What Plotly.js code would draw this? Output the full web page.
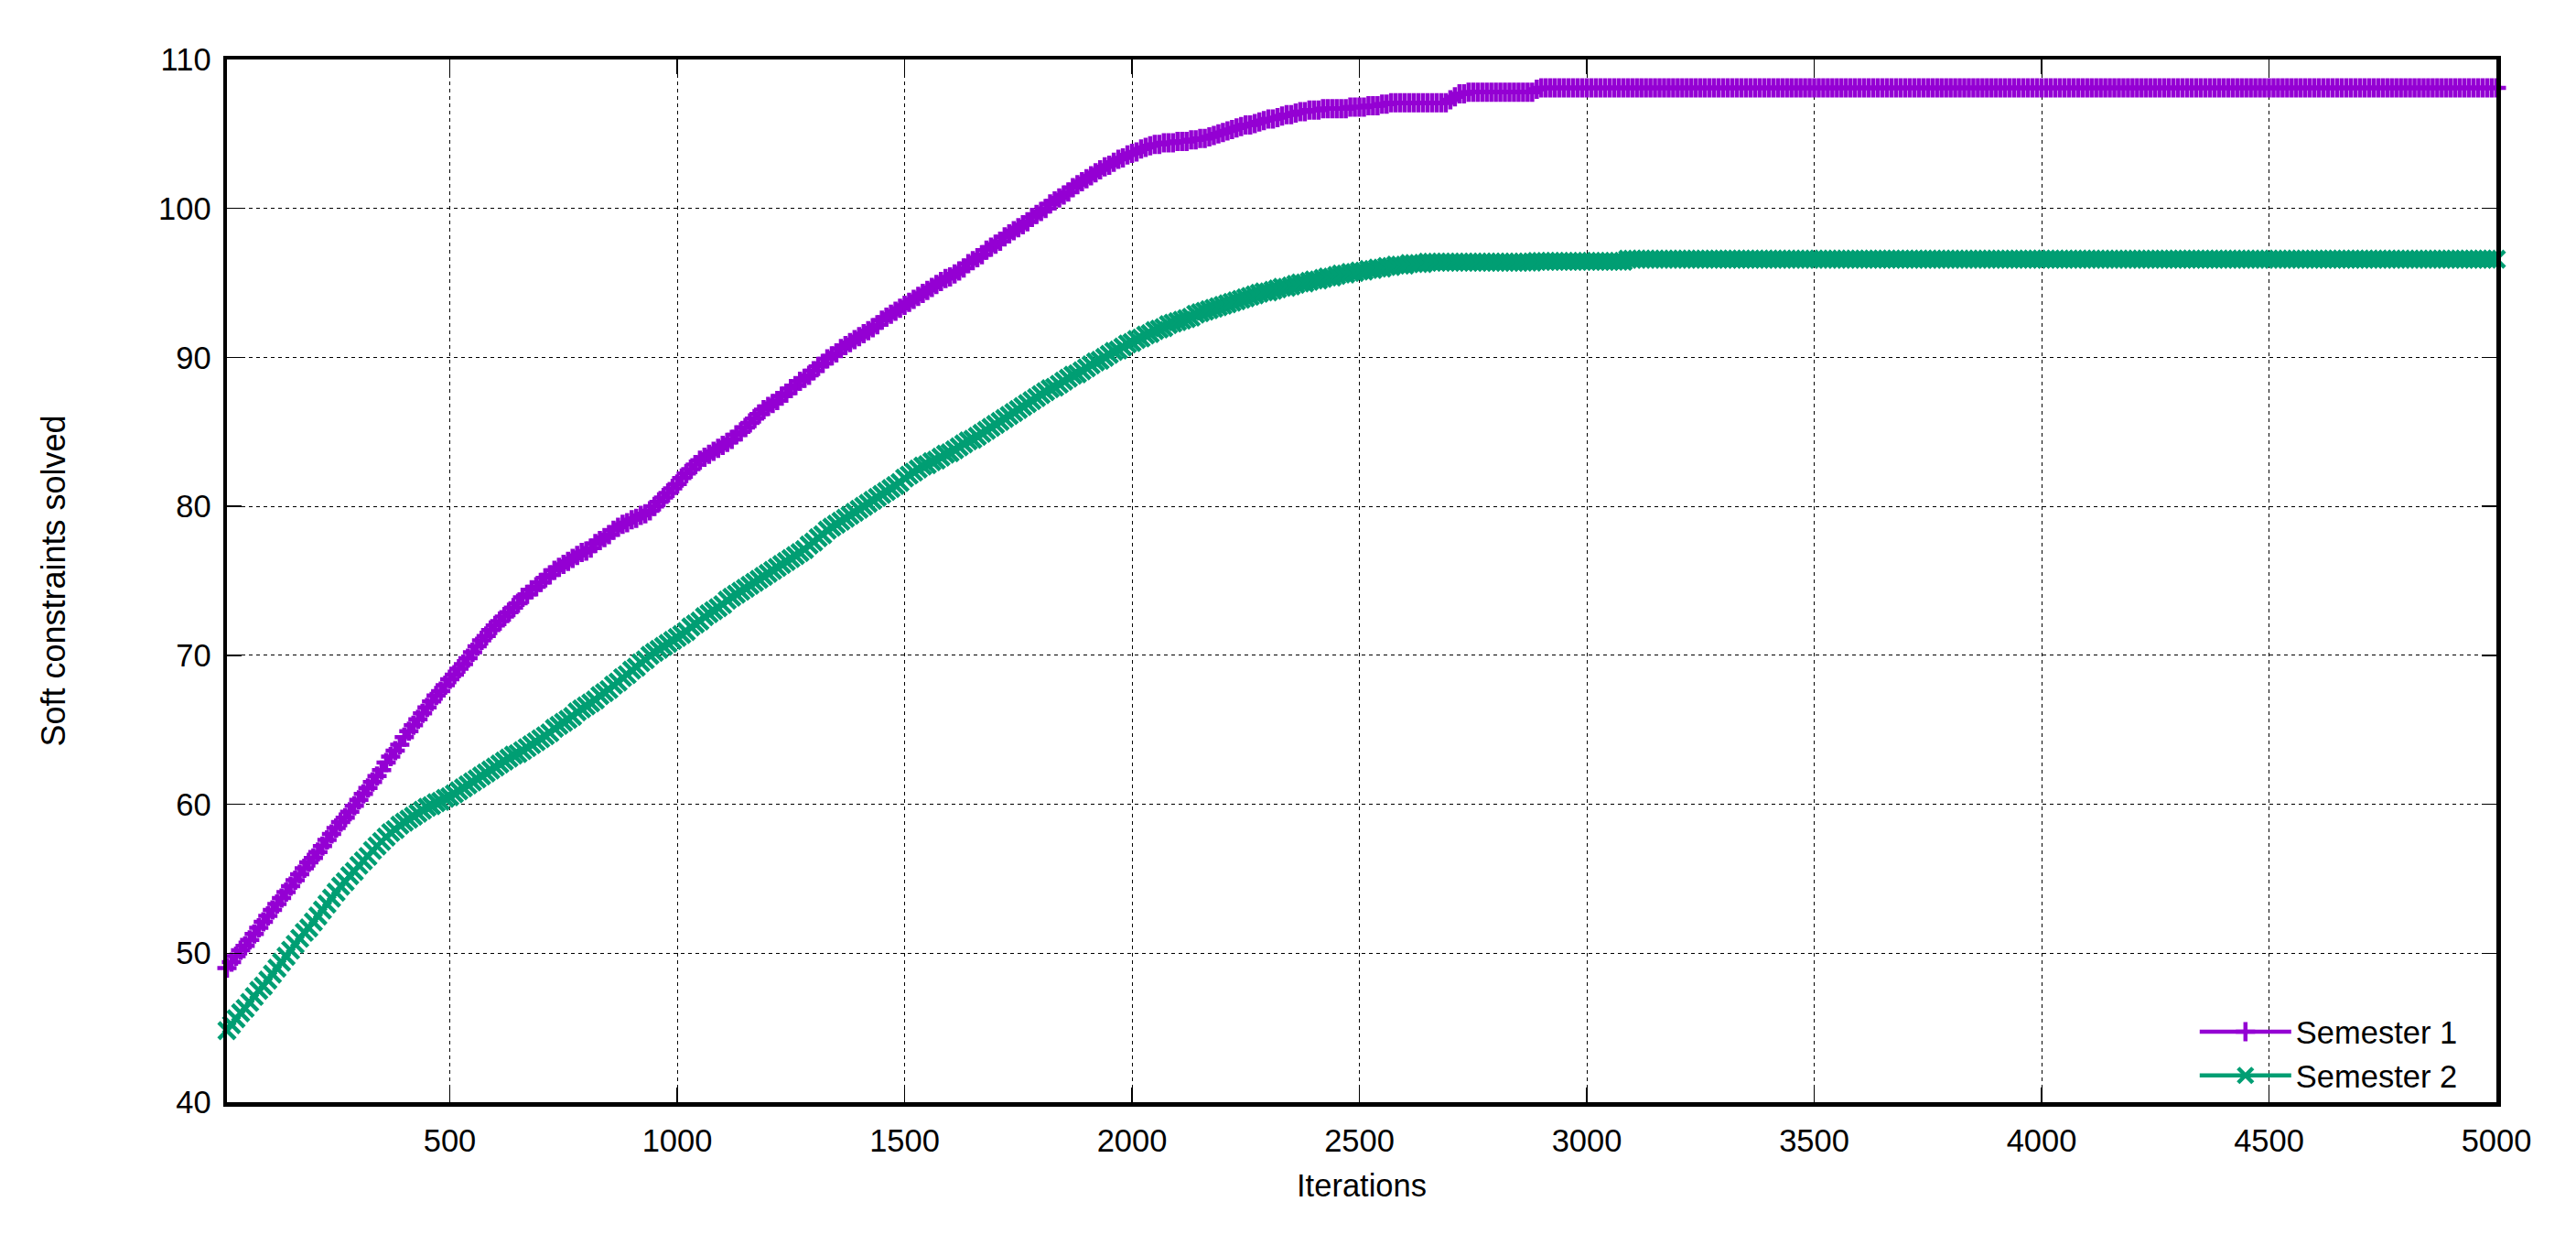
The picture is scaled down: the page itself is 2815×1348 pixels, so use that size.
<!DOCTYPE html>
<html>
<head>
<meta charset="utf-8">
<script src="https://cdn.plot.ly/plotly-3.0.1.min.js"></script>
<style>
  html, body { margin: 0; padding: 0; background: #fff; }
  #chart { width: 2815px; height: 1348px; }
</style>
</head>
<body>
<div id="chart"></div>
<script>
// Iterations: first sample at 10, one sample every 10 iterations up to 5000
const ITER_START = 10;
const ITER_STEP = 10;

const seriesNames = ["Semester 1", "Semester 2"];

// Soft constraints solved, Semester 1 (rows of 10 samples = 100 iterations)
const semester1 = [
  49.0,49.4,49.8,50.2,50.5,50.9,51.3,51.7,52.1,52.5,
  52.9,53.3,53.7,54.1,54.5,54.9,55.3,55.7,56.1,56.4,
  56.8,57.2,57.6,58.0,58.4,58.8,59.1,59.5,59.9,60.3,
  60.7,61.1,61.5,61.9,62.3,62.8,63.2,63.6,64.0,64.5,
  64.9,65.3,65.7,66.1,66.5,66.9,67.3,67.6,68.0,68.4,
  68.7,69.1,69.4,69.8,70.2,70.6,71.0,71.3,71.7,72.0,
  72.3,72.6,72.9,73.2,73.5,73.9,74.1,74.4,74.6,74.9,
  75.2,75.4,75.7,75.9,76.1,76.3,76.5,76.7,76.9,77.0,
  77.2,77.5,77.7,77.9,78.1,78.4,78.6,78.8,78.9,79.1,
  79.2,79.4,79.5,79.7,80.0,80.3,80.6,80.9,81.2,81.5,
  81.9,82.2,82.5,82.8,83.1,83.3,83.5,83.7,83.9,84.1,
  84.3,84.5,84.8,85.0,85.3,85.6,85.9,86.2,86.5,86.7,
  86.9,87.1,87.4,87.6,87.9,88.1,88.4,88.6,88.8,89.1,
  89.4,89.6,89.9,90.1,90.3,90.6,90.8,91.0,91.2,91.4,
  91.6,91.8,92.0,92.2,92.5,92.7,92.9,93.1,93.3,93.5,
  93.7,93.9,94.1,94.3,94.5,94.7,94.9,95.1,95.3,95.4,
  95.6,95.8,96.0,96.3,96.5,96.7,96.9,97.2,97.4,97.6,
  97.8,98.1,98.3,98.5,98.7,98.9,99.1,99.4,99.6,99.8,
  100.0,100.3,100.5,100.7,100.9,101.1,101.4,101.6,101.8,102.0,
  102.2,102.4,102.6,102.8,102.9,103.1,103.3,103.4,103.6,103.7,
  103.8,104.0,104.1,104.2,104.3,104.3,104.4,104.4,104.4,104.5,
  104.5,104.5,104.6,104.6,104.7,104.7,104.8,104.9,105.0,105.1,
  105.2,105.3,105.4,105.5,105.6,105.6,105.7,105.8,105.9,106.0,
  106.0,106.1,106.2,106.3,106.3,106.4,106.5,106.5,106.6,106.6,
  106.6,106.7,106.7,106.7,106.7,106.7,106.7,106.8,106.8,106.8,
  106.8,106.9,106.9,106.9,107.0,107.0,107.1,107.1,107.1,107.1,
  107.1,107.1,107.1,107.1,107.1,107.1,107.1,107.1,107.1,107.3,
  107.5,107.7,107.7,107.8,107.8,107.8,107.8,107.8,107.8,107.8,
  107.8,107.8,107.8,107.8,107.8,107.8,107.8,107.8,108.0,108.1,
  108.1,108.1,108.1,108.1,108.1,108.1,108.1,108.1,108.1,108.1,
  108.1,108.1,108.1,108.1,108.1,108.1,108.1,108.1,108.1,108.1,
  108.1,108.1,108.1,108.1,108.1,108.1,108.1,108.1,108.1,108.1,
  108.1,108.1,108.1,108.1,108.1,108.1,108.1,108.1,108.1,108.1,
  108.1,108.1,108.1,108.1,108.1,108.1,108.1,108.1,108.1,108.1,
  108.1,108.1,108.1,108.1,108.1,108.1,108.1,108.1,108.1,108.1,
  108.1,108.1,108.1,108.1,108.1,108.1,108.1,108.1,108.1,108.1,
  108.1,108.1,108.1,108.1,108.1,108.1,108.1,108.1,108.1,108.1,
  108.1,108.1,108.1,108.1,108.1,108.1,108.1,108.1,108.1,108.1,
  108.1,108.1,108.1,108.1,108.1,108.1,108.1,108.1,108.1,108.1,
  108.1,108.1,108.1,108.1,108.1,108.1,108.1,108.1,108.1,108.1,
  108.1,108.1,108.1,108.1,108.1,108.1,108.1,108.1,108.1,108.1,
  108.1,108.1,108.1,108.1,108.1,108.1,108.1,108.1,108.1,108.1,
  108.1,108.1,108.1,108.1,108.1,108.1,108.1,108.1,108.1,108.1,
  108.1,108.1,108.1,108.1,108.1,108.1,108.1,108.1,108.1,108.1,
  108.1,108.1,108.1,108.1,108.1,108.1,108.1,108.1,108.1,108.1,
  108.1,108.1,108.1,108.1,108.1,108.1,108.1,108.1,108.1,108.1,
  108.1,108.1,108.1,108.1,108.1,108.1,108.1,108.1,108.1,108.1,
  108.1,108.1,108.1,108.1,108.1,108.1,108.1,108.1,108.1,108.1,
  108.1,108.1,108.1,108.1,108.1,108.1,108.1,108.1,108.1,108.1,
  108.1,108.1,108.1,108.1,108.1,108.1,108.1,108.1,108.1,108.1
];

// Soft constraints solved, Semester 2
const semester2 = [
  44.8,45.2,45.6,46.0,46.3,46.7,47.1,47.5,47.8,48.2,
  48.6,49.0,49.4,49.8,50.2,50.6,51.0,51.4,51.7,52.1,
  52.5,52.9,53.3,53.7,54.1,54.5,54.8,55.2,55.5,55.9,
  56.2,56.5,56.9,57.2,57.5,57.8,58.1,58.3,58.6,58.8,
  59.0,59.2,59.4,59.6,59.8,59.9,60.1,60.2,60.4,60.5,
  60.7,60.9,61.1,61.3,61.5,61.7,61.9,62.1,62.3,62.5,
  62.7,62.9,63.1,63.3,63.4,63.6,63.8,64.0,64.2,64.4,
  64.6,64.8,65.1,65.3,65.5,65.7,65.9,66.2,66.4,66.6,
  66.8,67.0,67.3,67.5,67.7,68.0,68.2,68.5,68.7,69.0,
  69.2,69.5,69.7,70.0,70.2,70.4,70.6,70.8,71.0,71.2,
  71.4,71.6,71.9,72.1,72.3,72.6,72.8,73.0,73.2,73.4,
  73.7,73.9,74.1,74.3,74.5,74.7,74.9,75.1,75.3,75.5,
  75.7,75.9,76.1,76.3,76.5,76.7,76.9,77.1,77.4,77.6,
  77.9,78.1,78.4,78.6,78.8,79.0,79.2,79.4,79.6,79.8,
  80.0,80.2,80.4,80.6,80.8,81.0,81.2,81.4,81.6,81.9,
  82.1,82.3,82.5,82.7,82.8,83.0,83.1,83.3,83.5,83.6,
  83.8,84.0,84.2,84.4,84.5,84.7,84.9,85.1,85.3,85.5,
  85.7,85.9,86.1,86.3,86.5,86.7,86.9,87.1,87.3,87.5,
  87.7,87.9,88.0,88.2,88.4,88.6,88.8,88.9,89.1,89.3,
  89.5,89.7,89.8,90.0,90.2,90.4,90.5,90.7,90.9,91.0,
  91.2,91.3,91.5,91.6,91.8,91.9,92.0,92.2,92.3,92.4,
  92.5,92.6,92.7,92.9,93.0,93.1,93.2,93.3,93.4,93.5,
  93.6,93.7,93.8,93.9,94.0,94.1,94.2,94.3,94.4,94.4,
  94.5,94.6,94.7,94.7,94.8,94.9,95.0,95.0,95.1,95.2,
  95.2,95.3,95.4,95.4,95.5,95.6,95.6,95.7,95.7,95.8,
  95.8,95.9,95.9,96.0,96.0,96.1,96.1,96.2,96.2,96.2,
  96.3,96.3,96.3,96.3,96.4,96.4,96.4,96.4,96.4,96.4,
  96.4,96.4,96.4,96.4,96.4,96.4,96.4,96.4,96.4,96.4,
  96.4,96.4,96.4,96.4,96.4,96.4,96.4,96.4,96.45,96.45,
  96.45,96.45,96.45,96.45,96.45,96.45,96.45,96.45,96.45,96.45,
  96.45,96.45,96.45,96.45,96.45,96.45,96.45,96.45,96.6,96.6,
  96.6,96.6,96.6,96.6,96.6,96.6,96.6,96.6,96.6,96.6,
  96.6,96.6,96.6,96.6,96.6,96.6,96.6,96.6,96.6,96.6,
  96.6,96.6,96.6,96.6,96.6,96.6,96.6,96.6,96.6,96.6,
  96.6,96.6,96.6,96.6,96.6,96.6,96.6,96.6,96.6,96.6,
  96.6,96.6,96.6,96.6,96.6,96.6,96.6,96.6,96.6,96.6,
  96.6,96.6,96.6,96.6,96.6,96.6,96.6,96.6,96.6,96.6,
  96.6,96.6,96.6,96.6,96.6,96.6,96.6,96.6,96.6,96.6,
  96.6,96.6,96.6,96.6,96.6,96.6,96.6,96.6,96.6,96.6,
  96.6,96.6,96.6,96.6,96.6,96.6,96.6,96.6,96.6,96.6,
  96.6,96.6,96.6,96.6,96.6,96.6,96.6,96.6,96.6,96.6,
  96.6,96.6,96.6,96.6,96.6,96.6,96.6,96.6,96.6,96.6,
  96.6,96.6,96.6,96.6,96.6,96.6,96.6,96.6,96.6,96.6,
  96.6,96.6,96.6,96.6,96.6,96.6,96.6,96.6,96.6,96.6,
  96.6,96.6,96.6,96.6,96.6,96.6,96.6,96.6,96.6,96.6,
  96.6,96.6,96.6,96.6,96.6,96.6,96.6,96.6,96.6,96.6,
  96.6,96.6,96.6,96.6,96.6,96.6,96.6,96.6,96.6,96.6,
  96.6,96.6,96.6,96.6,96.6,96.6,96.6,96.6,96.6,96.6,
  96.6,96.6,96.6,96.6,96.6,96.6,96.6,96.6,96.6,96.6,
  96.6,96.6,96.6,96.6,96.6,96.6,96.6,96.6,96.6,96.6
];

const xTickStep = 500;
const yTickStep = 10;
const xRange = [10, 5000];
const yRange = [40, 110];
const xTitle = "Iterations";
const yTitle = "Soft constraints solved";

const FONT = "Liberation Sans, Arial, Helvetica, sans-serif";
const FONT_SIZE = 34.5;
const colors = ["#9400D3", "#009E73"];

const traces = [
  {
    type: "scatter", mode: "lines+markers", name: seriesNames[0],
    x0: ITER_START, dx: ITER_STEP, y: semester1,
    line: { color: colors[0], width: 4.5 },
    marker: { symbol: "cross-thin", size: 15, color: colors[0],
              line: { color: colors[0], width: 4.5 } },
    cliponaxis: false
  },
  {
    type: "scatter", mode: "lines+markers", name: seriesNames[1],
    x0: ITER_START, dx: ITER_STEP, y: semester2,
    line: { color: colors[1], width: 4.5 },
    marker: { symbol: "x-thin", size: 18, color: colors[1],
              line: { color: colors[1], width: 4.5 } },
    cliponaxis: false
  }
];

const axisCommon = {
  showline: true, linecolor: "#000", linewidth: 4.5, mirror: "ticks",
  ticks: "inside", ticklen: 16, tickwidth: 1.3, tickcolor: "#000",
  showgrid: true, gridcolor: "#000", gridwidth: 1, griddash: "4px,4px",
  zeroline: false,
  tickfont: { family: FONT, size: FONT_SIZE, color: "#000" }
};

const layout = {
  width: 2815, height: 1348,
  paper_bgcolor: "#fff", plot_bgcolor: "#fff",
  margin: { l: 248, r: 87, t: 65, b: 144, pad: 0 },
  font: { family: FONT, size: FONT_SIZE, color: "#000" },
  showlegend: true,
  legend: {
    x: 0.985, xanchor: "right", y: 0.0, yanchor: "bottom",
    bgcolor: "rgba(0,0,0,0)", borderwidth: 0,
    font: { family: FONT, size: FONT_SIZE, color: "#000" },
    itemwidth: 100, tracegroupgap: 0
  },
  xaxis: Object.assign({}, axisCommon, {
    range: xRange, tick0: 0, dtick: xTickStep, automargin: false,
    ticklabelstandoff: 8,
    title: { text: xTitle, font: { family: FONT, size: FONT_SIZE, color: "#000" }, standoff: 20 }
  }),
  yaxis: Object.assign({}, axisCommon, {
    range: yRange, tick0: 40, dtick: yTickStep, automargin: false,
    ticklabelstandoff: 6,
    title: { text: yTitle, font: { family: FONT, size: 36, color: "#000" }, standoff: 92 }
  })
};

Plotly.newPlot("chart", traces, layout, { staticPlot: true, displayModeBar: false });
</script>
</body>
</html>
